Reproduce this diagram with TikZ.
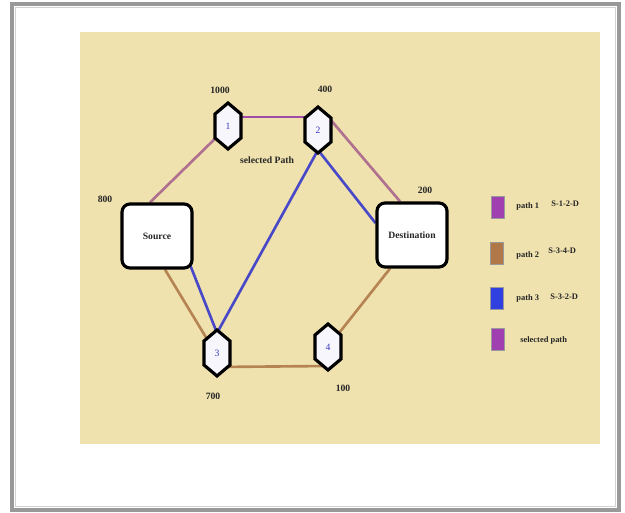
\documentclass[tikz,border=0pt]{standalone}
\usepackage{fontspec}
\setmainfont{Liberation Serif}
\usetikzlibrary{calc}
\pgfdeclarelayer{bg}\pgfdeclarelayer{edges}\pgfdeclarelayer{hexes}
\pgfsetlayers{bg,edges,hexes,main}
\definecolor{panel}{HTML}{EFE2AE}
\definecolor{mauve}{HTML}{B0708F}
\definecolor{selp}{HTML}{A04CA8}
\definecolor{bluep}{HTML}{4848C8}
\definecolor{brownp}{HTML}{B58452}
\definecolor{hexfill}{HTML}{F6F6FC}
\definecolor{numblue}{HTML}{3A3ABF}
\definecolor{legpurple}{HTML}{A040B0}
\definecolor{legbrown}{HTML}{B07848}
\definecolor{legblue}{HTML}{3040E0}
\tikzset{
  lbl/.style={font=\fontsize{5.5}{6}\selectfont\bfseries, inner sep=0pt, text=black!85},
  leglbl/.style={font=\fontsize{4.8}{5}\selectfont\bfseries, inner sep=0pt, text=black!85, anchor=west},
  hexline/.style={draw=black, fill=hexfill, line width=1.8pt, line join=miter},
  hexlabel/.style={font=\fontsize{5.5}{6}\selectfont, text=numblue, inner sep=0pt},
  endbox/.style={draw=black, fill=white, line width=1.8pt, rounded corners=0.16cm,
    minimum width=1.4cm, minimum height=1.28cm, font=\fontsize{5.5}{6}\selectfont\bfseries, text=black!85},
  edge/.style={line width=1.5pt},
  legsq/.style={minimum width=0.26cm, minimum height=0.44cm, inner sep=0pt, draw=black!40, line width=0.3pt}
}
\newcommand\hexnode[4]{%
  \node[hexlabel] (#1) at (#2,#3) {#4};
  \begin{pgfonlayer}{hexes}
  \filldraw[hexline] ($(#1)+(0,-23)$) -- ($(#1)+(13,-12)$) -- ($(#1)+(13,12)$) -- ($(#1)+(0,23)$) -- ($(#1)+(-13,12)$) -- ($(#1)+(-13,-12)$) -- cycle;
  \end{pgfonlayer}}
\begin{document}
\begin{tikzpicture}[x=0.02cm,y=-0.02cm]
\useasboundingbox (0,0) rectangle (625,513);
\begin{pgfonlayer}{bg}
  \fill[white] (0,0) rectangle (625,513);
  \draw[gray!80, line width=2.4pt] (12,4) rectangle (619,510);
  \draw[gray!35, line width=1pt] (15.5,7.5) rectangle (615.5,506.5);
  \fill[panel] (80,32) rectangle (600,444);
\end{pgfonlayer}

% nodes
\node[endbox] (src) at (157,236) {Source};
\node[endbox] (dst) at (412,235) {Destination};
\hexnode{h1}{228}{126}{1}
\hexnode{h2}{318}{130}{2}
\hexnode{h3}{217}{353}{3}
\hexnode{h4}{328}{347}{4}

% edges
\begin{pgfonlayer}{edges}
  \draw[edge, mauve] ($(src.north)+(-7,0)$) -- (h1);
  \draw[edge, selp] ($(h1)+(0,-9)$) -- ($(h2)+(0,-13)$);
  \draw[edge, mauve] ($(h2)+(6,-18)$) -- ($(dst.north)+(-12,0)$);
  \draw[edge, bluep] ($(h2)+(0,20)$) -- ($(dst.west)+(0,-12)$);
  \draw[edge, bluep] ($(h2)+(0,20)$) -- ($(h3)+(0,-20)$);
  \draw[edge, bluep] ($(src.south east)+(-4,-6)$) -- ($(h3)+(0,-20)$);
  \draw[edge, brownp] ($(src.south)+(8,0)$) -- ($(h3)+(-4,-4)$);
  \draw[edge, brownp] ($(h3)+(0,14)$) -- ($(h4)+(0,19)$);
  \draw[edge, brownp] (h4) -- ($(dst.south)+(-22,0)$);
\end{pgfonlayer}

% weight labels
\node[lbl] (w1) at (220,90) {1000};
\node[lbl] (w2) at (325,89) {400};
\node[lbl] (ws) at (105,199) {800};
\node[lbl] (wd) at (425,190) {200};
\node[lbl] (w3) at (213,396) {700};
\node[lbl] (w4) at (343,388) {100};
\node[lbl] (sel) at (267,160) {selected Path};

% legend
\node[legsq, fill=legpurple] (k1) at (498,207) {};
\node[legsq, fill=legbrown] (k2) at (497,253) {};
\node[legsq, fill=legblue] (k3) at (497,298) {};
\node[legsq, fill=legpurple] (k4) at (498,339) {};
\node[leglbl] (t1) at (516,206) {path 1};
\node[leglbl] (u1) at (551,204) {S-1-2-D};
\node[leglbl] (t2) at (516,255) {path 2};
\node[leglbl] (u2) at (548,251) {S-3-4-D};
\node[leglbl] (t3) at (516,298) {path 3};
\node[leglbl] (u3) at (550,297) {S-3-2-D};
\node[leglbl] (t4) at (520,340) {selected path};
\end{tikzpicture}
\end{document}
